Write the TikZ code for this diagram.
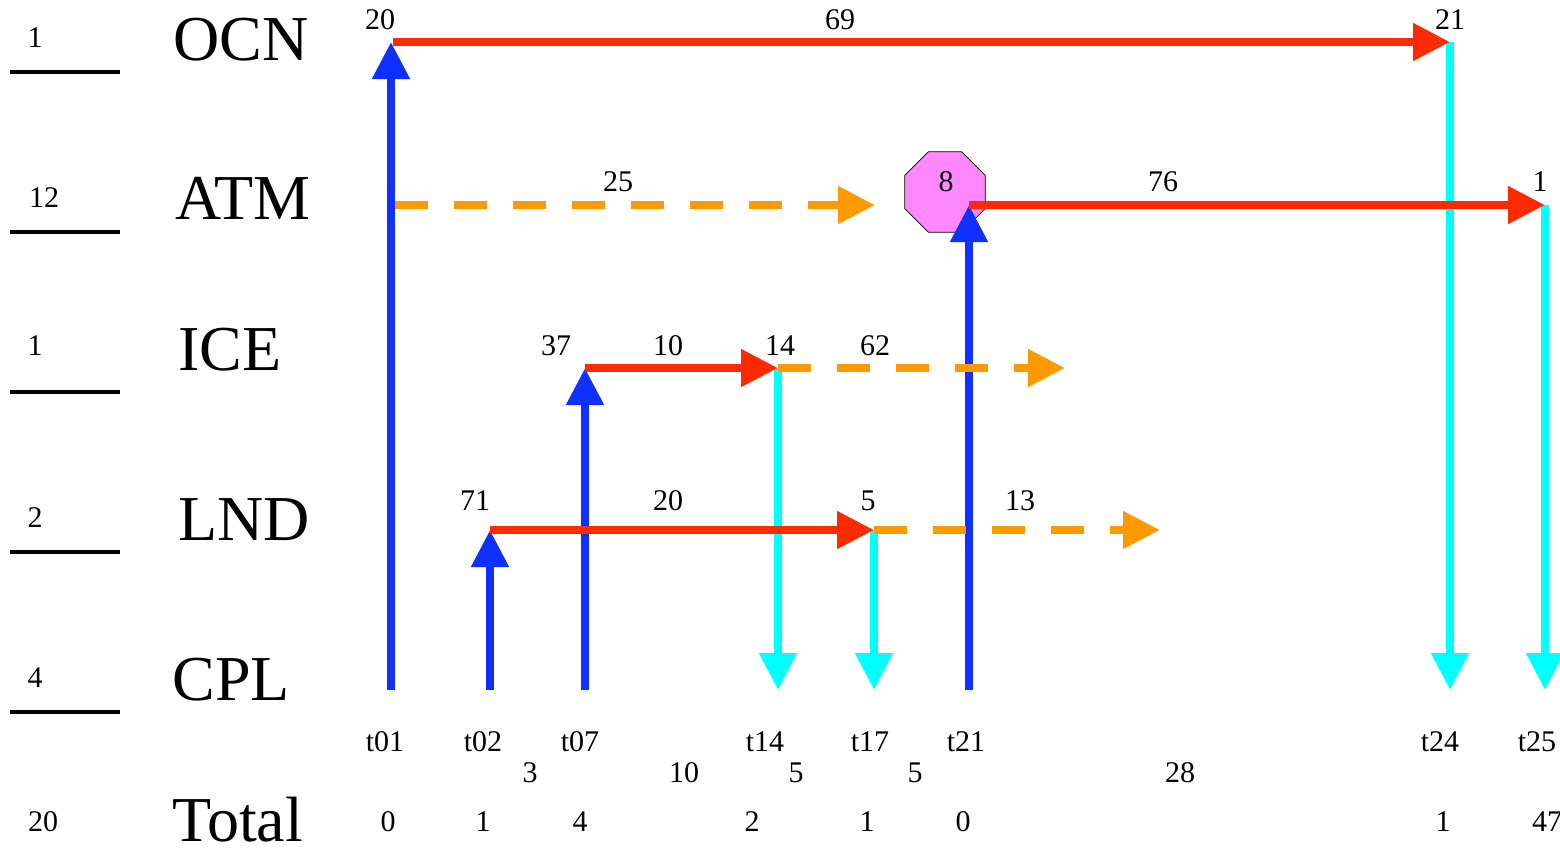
\documentclass[tikz,border=0pt]{standalone}
\usepackage{fontspec}
\setmainfont{Liberation Serif}
\usetikzlibrary{arrows.meta,shapes.geometric}
\definecolor{FlowRed}{HTML}{FF2A00}
\definecolor{FlowBlue}{HTML}{1030FF}
\definecolor{FlowCyan}{HTML}{00FFFF}
\definecolor{FlowAmber}{HTML}{FF9900}
\definecolor{StopPink}{HTML}{FF88FF}
\tikzset{
  sendarr/.style={-{Triangle[length=18.5pt, width=18pt]}, line width=4pt, draw=FlowRed},
  waitarr/.style={-{Triangle[length=18.5pt, width=18pt]}, line width=4pt, draw=FlowAmber, dash pattern=on 16.5pt off 13pt},
  recvarr/.style={-{Triangle[length=18.5pt, width=18pt]}, line width=4pt, draw=FlowBlue},
  donearr/.style={-{Triangle[length=18.5pt, width=18pt]}, line width=4pt, draw=FlowCyan},
  rowline/.style={line width=2pt, draw=black},
  compname/.style={font=\fontsize{32}{38}\selectfont, anchor=west, inner sep=0pt},
  numlbl/.style={font=\fontsize{15}{18}\selectfont, inner sep=0pt},
  stopsign/.style={regular polygon, regular polygon sides=8, draw=black, fill=StopPink, minimum size=43.5pt, inner sep=0pt, thin}
}

\begin{document}
\begin{tikzpicture}[x=0.5pt, y=-0.5pt]
  \useasboundingbox (0,0) rectangle (1560,853);

  % row counts and names
  \node[numlbl] (cntocn) at (35,38) {1};
  \node[numlbl] (cntatm) at (44,198) {12};
  \node[numlbl] (cntice) at (35,346) {1};
  \node[numlbl] (cntlnd) at (35,518) {2};
  \node[numlbl] (cntcpl) at (35,678) {4};
  \node[numlbl] (cnttot) at (43,822) {20};
  \draw[rowline] (10,72) -- (120,72);
  \draw[rowline] (10,232) -- (120,232);
  \draw[rowline] (10,392) -- (120,392);
  \draw[rowline] (10,552) -- (120,552);
  \draw[rowline] (10,712) -- (120,712);
  \node[compname] (ocn) at (173,40) {OCN};
  \node[compname] (atm) at (175,198) {ATM};
  \node[compname] (ice) at (178,350) {ICE};
  \node[compname] (lnd) at (178,520) {LND};
  \node[compname] (cpl) at (172,680) {CPL};
  \node[compname] (tot) at (172,820) {Total};

  % event points
  \coordinate (ocn01) at (393,42);
  \coordinate (ocn24) at (1450,42);
  \coordinate (atm01) at (395,205);
  \coordinate (atmwait) at (875,205);
  \coordinate (atm21) at (969,205);
  \coordinate (atm25) at (1545,205);
  \coordinate (ice07) at (585,368);
  \coordinate (ice14) at (778,368);
  \coordinate (icewait) at (1065,368);
  \coordinate (lnd02) at (490,530);
  \coordinate (lnd17) at (874,530);
  \coordinate (lndwait) at (1160,530);
  \coordinate (cpl01) at (391,690);
  \coordinate (cpl02) at (490,690);
  \coordinate (cpl07) at (585,690);
  \coordinate (cpl14) at (778,690);
  \coordinate (cpl17) at (874,690);
  \coordinate (cpl21) at (969,690);
  \coordinate (cpl24) at (1450,690);
  \coordinate (cpl25) at (1545,690);

  \node[stopsign] (stop) at (945,192) {};
  \node[numlbl] (stopcnt) at (946,182) {8};

  \draw[recvarr] (cpl01) -- (391,42);
  \draw[recvarr] (cpl02) -- (lnd02);
  \draw[recvarr] (cpl07) -- (ice07);
  \draw[recvarr] (cpl21) -- (atm21);
  \draw[donearr] (ocn24) -- (cpl24);
  \draw[donearr] (atm25) -- (cpl25);
  \draw[donearr] (ice14) -- (cpl14);
  \draw[donearr] (lnd17) -- (cpl17);

  \draw[sendarr] (ocn01) -- (ocn24);
  \draw[waitarr] (atm01) -- (atmwait);
  \draw[sendarr] (atm21) -- (atm25);
  \draw[sendarr] (ice07) -- (ice14);
  \draw[waitarr] (ice14) -- (icewait);
  \draw[sendarr] (lnd02) -- (lnd17);
  \draw[waitarr] (lnd17) -- (lndwait);

  % values on the rows
  \node[numlbl] (v20) at (380,20) {20};
  \node[numlbl] (v69) at (840,20) {69};
  \node[numlbl] (v21) at (1450,20) {21};
  \node[numlbl] (v25) at (618,182) {25};
  \node[numlbl] (v76) at (1163,182) {76};
  \node[numlbl] (v1) at (1540,182) {1};
  \node[numlbl] (v37) at (556,346) {37};
  \node[numlbl] (v10) at (668,346) {10};
  \node[numlbl] (v14) at (780,346) {14};
  \node[numlbl] (v62) at (875,346) {62};
  \node[numlbl] (v71) at (475,501) {71};
  \node[numlbl] (v20b) at (668,501) {20};
  \node[numlbl] (v5) at (868,501) {5};
  \node[numlbl] (v13) at (1020,501) {13};

  % time axis
  \node[numlbl] (t01) at (385,742) {t01};
  \node[numlbl] (t02) at (483,742) {t02};
  \node[numlbl] (t07) at (580,742) {t07};
  \node[numlbl] (t14) at (765,742) {t14};
  \node[numlbl] (t17) at (870,742) {t17};
  \node[numlbl] (t21) at (966,742) {t21};
  \node[numlbl] (t24) at (1440,742) {t24};
  \node[numlbl] (t25) at (1537,742) {t25};
  \node[numlbl] (gap1) at (530,773) {3};
  \node[numlbl] (gap2) at (684,773) {10};
  \node[numlbl] (gap3) at (796,773) {5};
  \node[numlbl] (gap4) at (915,773) {5};
  \node[numlbl] (gap5) at (1180,773) {28};
  \node[numlbl] (s01) at (388,822) {0};
  \node[numlbl] (s02) at (483,822) {1};
  \node[numlbl] (s07) at (580,822) {4};
  \node[numlbl] (s14) at (752,822) {2};
  \node[numlbl] (s17) at (867,822) {1};
  \node[numlbl] (s21) at (963,822) {0};
  \node[numlbl] (s24) at (1443,822) {1};
  \node[numlbl] (s25) at (1547,822) {47};
\end{tikzpicture}
\end{document}
